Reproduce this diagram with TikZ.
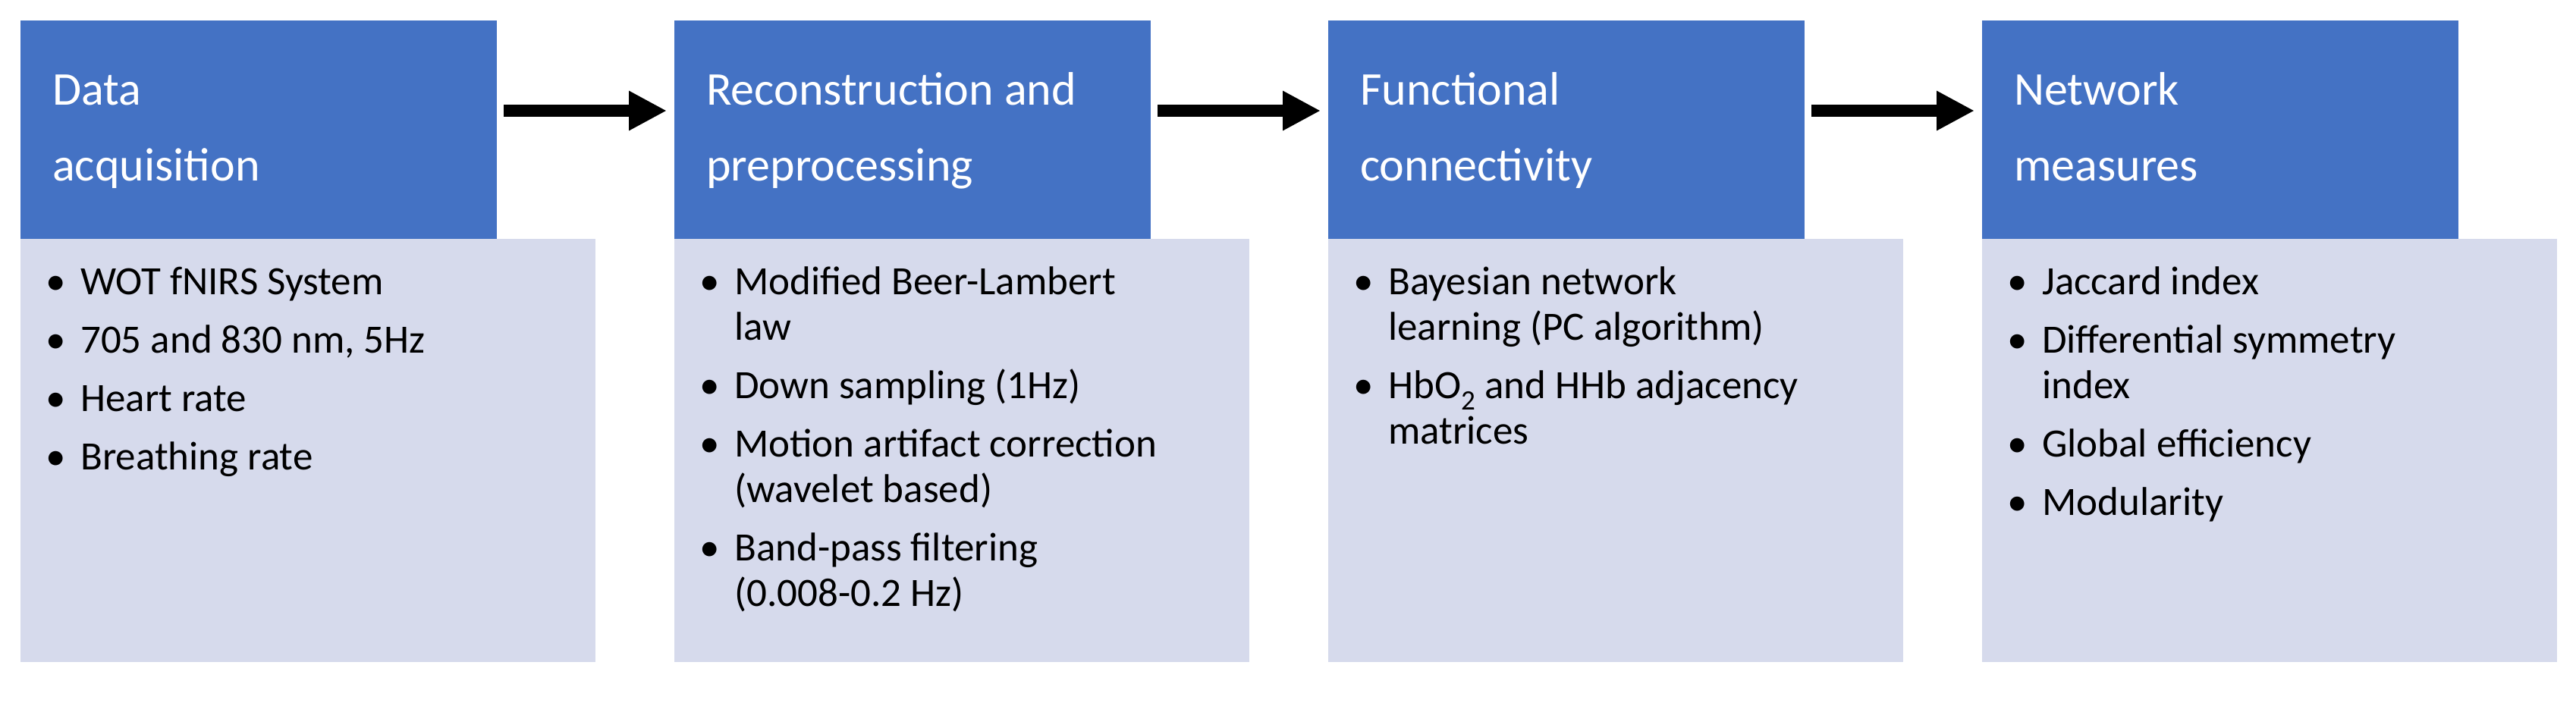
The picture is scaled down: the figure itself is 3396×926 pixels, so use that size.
\documentclass[tikz,border=0pt]{standalone}
\usepackage{fontspec}
\setmainfont{Carlito}
\usetikzlibrary{arrows.meta}
\definecolor{hdr}{HTML}{4472C4}
\definecolor{bodyc}{HTML}{D6DAEC}
\begin{document}
\begin{tikzpicture}[x=1pt,y=-1pt,
  hbox/.style={fill=hdr,draw=none},
  bbox/.style={fill=bodyc,draw=none},
  htxt/.style={anchor=base west,inner sep=0,text=white,font=\fontsize{62}{62}\selectfont},
  btxt/.style={anchor=base west,inner sep=0,text=black,font=\fontsize{53}{53}\selectfont},
  arr/.style={line width=16pt,-{Triangle[length=50pt,width=49pt]}}]
\useasboundingbox (0,0) rectangle (3396,926);
\foreach \i in {0,1,2,3}{
  \pgfmathsetmacro\xo{27+862*\i}
  \fill[bodyc] (\xo,315) rectangle ++(758,558);
  \fill[hdr] (\xo,27) rectangle ++(628,288);
  \coordinate (h\i) at (\xo,0);
}
% headers
\node[htxt] (t1a) at (69,138) {Data};
\node[htxt] (t1b) at (69,238) {acquisition};
\node[htxt] (t2a) at (931,138) {Reconstruction and};
\node[htxt] (t2b) at (931,238) {preprocessing};
\node[htxt] (t3a) at (1793,138) {Functional};
\node[htxt] (t3b) at (1793,238) {connectivity};
\node[htxt] (t4a) at (2655,138) {Network};
\node[htxt] (t4b) at (2655,238) {measures};
% arrows
\foreach \i/\j in {0/1,1/2,2/3}{
  \pgfmathsetmacro\xa{27+862*\i+628+9}
  \pgfmathsetmacro\xb{27+862*\j-10}
  \coordinate (a\i) at (\xa,146);
  \coordinate (b\i) at (\xb,146);
  \draw[arr] (a\i) -- (b\i);
}
% bullets
\newcommand\bul[4]{% box index, line y, text, name
  \pgfmathsetmacro\xx{27+862*#1+33}
  \pgfmathsetmacro\xt{27+862*#1+79}
  \node[btxt] (#4b) at (\xx,#2) {•};
  \node[btxt] (#4) at (\xt,#2) {#3};}
\newcommand\cont[4]{%
  \pgfmathsetmacro\xt{27+862*#1+79}
  \node[btxt] (#4) at (\xt,#2) {#3};}
\bul{0}{388}{WOT fNIRS System}{p1}
\bul{0}{465}{705 and 830 nm, 5Hz}{p2}
\bul{0}{542}{Heart rate}{p3}
\bul{0}{619}{Breathing rate}{p4}
\bul{1}{388}{Modified Beer-Lambert}{q1}
\cont{1}{448}{law}{q1c}
\bul{1}{525}{Down sampling (1Hz)}{q2}
\bul{1}{602}{Motion artifact correction}{q3}
\cont{1}{662}{(wavelet based)}{q3c}
\bul{1}{739}{Band-pass filtering}{q4}
\cont{1}{799}{(0.008-0.2 Hz)}{q4c}
\bul{2}{388}{Bayesian network}{r1}
\cont{2}{448}{learning (PC algorithm)}{r1c}
\bul{2}{525}{HbO\textsubscript{2} and HHb adjacency}{r2}
\cont{2}{585}{matrices}{r2c}
\bul{3}{388}{Jaccard index}{s1}
\bul{3}{465}{Differential symmetry}{s2}
\cont{3}{525}{index}{s2c}
\bul{3}{602}{Global efficiency}{s3}
\bul{3}{679}{Modularity}{s4}
\end{tikzpicture}
\end{document}
